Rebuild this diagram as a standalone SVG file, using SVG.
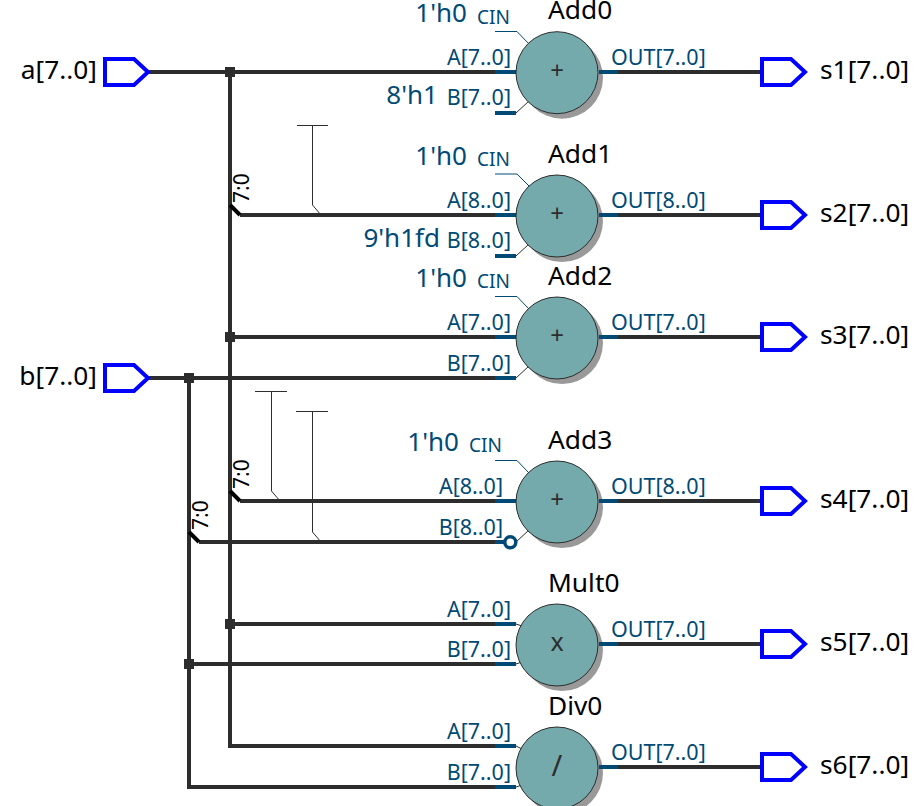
<svg xmlns="http://www.w3.org/2000/svg" width="920" height="806" viewBox="0 0 920 806">
<style>
text{font-family:"Noto Sans","Open Sans","Liberation Sans",sans-serif}
.w{fill:none;stroke:#2d2d2d;stroke-width:4}
.t{fill:none;stroke:#2d2d2d;stroke-width:1}
.tb{fill:none;stroke:#004a75;stroke-width:1}
.s{fill:none;stroke:#004a75;stroke-width:4}
.k{fill:none;stroke:#000;stroke-width:4}
.port{fill:#fff;stroke:#0000ff;stroke-width:4}
.sh{fill:#999}
.c{fill:#74aaac;stroke:#2d2d2d;stroke-width:1}
.n{font-size:26.300px;fill:#000}
.p{font-size:21.500px;fill:#004a75}
.cin{font-size:19px;fill:#004a75}
.v{font-size:26px;fill:#004a75}
.sl{font-size:21px;fill:#000}
.op{font-size:24px;fill:#2d2d2d;text-anchor:middle}
.e{text-anchor:end}
</style>
<defs>
<path id="pt" class="port" d="M0,-13H29L43,0L29,13H0Z"/>
<circle id="cs" class="sh" r="41" cx="5" cy="5"/>
<circle id="cc" class="c" r="41"/>
</defs>
<g id="connectors">
<path class="w" d="M148,72H495M230,72V746H495M240,215H495M230,337H495M148,378H495M189,378V787H495M240,501H495M199,542H503M189,664H495M230,624H495"/>
<path class="w" d="M618,72H761M618,215H761M618,337H761M618,501H761M618,644H761M618,767H761"/>
<path class="k" d="M230,205L240,215M230,491L240,501M189,532L199,542"/>
<path class="t" d="M297,125.500H328M312.500,125V205L321,215M255,391.500H287M271.500,391V491L280,501M296,411.500H328M312.500,411V532L321,542"/>
<rect x="225" y="67" width="10" height="10" fill="#2d2d2d"/>
<rect x="225" y="332" width="10" height="10" fill="#2d2d2d"/>
<rect x="225" y="619" width="10" height="10" fill="#2d2d2d"/>
<rect x="184" y="373" width="10" height="10" fill="#2d2d2d"/>
<rect x="184" y="659" width="10" height="10" fill="#2d2d2d"/>
<text class="sl" transform="translate(249,203) rotate(-90)">7:0</text>
<text class="sl" transform="translate(249,489) rotate(-90)">7:0</text>
<text class="sl" transform="translate(208,530) rotate(-90)">7:0</text>
</g>
<g id="a"><use href="#pt" x="105" y="72"/><text class="n e" x="97" y="79">a[7..0]</text></g>
<g id="b"><use href="#pt" x="105" y="378"/><text class="n e" x="97" y="385">b[7..0]</text></g>
<g id="s1"><use href="#pt" x="762" y="72"/><text class="n" x="820" y="79">s1[7..0]</text></g>
<g id="s2"><use href="#pt" x="762" y="215"/><text class="n" x="820" y="222">s2[7..0]</text></g>
<g id="s3"><use href="#pt" x="762" y="337"/><text class="n" x="820" y="344">s3[7..0]</text></g>
<g id="s4"><use href="#pt" x="762" y="501"/><text class="n" x="820" y="508">s4[7..0]</text></g>
<g id="s5"><use href="#pt" x="762" y="644"/><text class="n" x="820" y="651">s5[7..0]</text></g>
<g id="s6"><use href="#pt" x="762" y="767"/><text class="n" x="820" y="774">s6[7..0]</text></g>
<g id="Add0">
<use href="#cs" x="557" y="72.700"/>
<path class="tb" d="M495,31.500H517L529,44"/><path class="t" d="M516,113L529,101"/>
<path class="s" d="M495,72H517M599,72H618M495,113H516"/>
<use href="#cc" x="557" y="72.700"/>
<text class="op" x="557" y="79">+</text>
<text class="n" x="548" y="19">Add0</text>
<text class="v e" x="467" y="22">1'h0</text><text class="cin" x="477" y="24">CIN</text>
<text class="p e" x="511" y="65">A[7..0]</text><text class="p e" x="511" y="105">B[7..0]</text>
<text class="v e" x="438" y="104">8'h1</text>
<text class="p" x="611" y="65">OUT[7..0]</text>
</g>
<g id="Add1">
<use href="#cs" x="557" y="216"/>
<path class="tb" d="M495,174H517L529,186"/><path class="t" d="M516,256L529,244"/>
<path class="s" d="M495,215H517M599,215H618M495,256H516"/>
<use href="#cc" x="557" y="216"/>
<text class="op" x="557" y="222">+</text>
<text class="n" x="548" y="162.500">Add1</text>
<text class="v e" x="467" y="165">1'h0</text><text class="cin" x="477" y="166">CIN</text>
<text class="p e" x="511" y="208">A[8..0]</text><text class="p e" x="511" y="248">B[8..0]</text>
<text class="v e" x="440" y="247">9'h1fd</text>
<text class="p" x="611" y="208">OUT[8..0]</text>
</g>
<g id="Add2">
<use href="#cs" x="557" y="338"/>
<path class="tb" d="M495,296.500H517L529,309"/><path class="t" d="M516,378L529,366"/>
<path class="s" d="M495,337H517M599,337H618M495,378H516"/>
<use href="#cc" x="557" y="338"/>
<text class="op" x="557" y="344">+</text>
<text class="n" x="548" y="284.500">Add2</text>
<text class="v e" x="467" y="287">1'h0</text><text class="cin" x="477" y="288">CIN</text>
<text class="p e" x="511" y="330">A[7..0]</text><text class="p e" x="511" y="371">B[7..0]</text>
<text class="p" x="611" y="330">OUT[7..0]</text>
</g>
<g id="Add3">
<use href="#cs" x="557" y="502"/>
<path class="tb" d="M495,460.500H517L529,473"/><path class="t" d="M516,542L529,530"/>
<path class="s" d="M495,501H517M599,501H618M495,542H505"/>
<use href="#cc" x="557" y="502"/>
<circle cx="510.300" cy="542.300" r="5.500" fill="#fff" stroke="#004a75" stroke-width="3.500"/>
<text class="op" x="557" y="508">+</text>
<text class="n" x="548" y="448.500">Add3</text>
<text class="v e" x="459" y="451">1'h0</text><text class="cin" x="469" y="452">CIN</text>
<text class="p e" x="503" y="494">A[8..0]</text><text class="p e" x="503" y="535">B[8..0]</text>
<text class="p" x="611" y="494">OUT[8..0]</text>
</g>
<g id="Mult0">
<use href="#cs" x="557" y="645"/>
<path class="t" d="M516,624L522,626M516,664L522,662"/>
<path class="s" d="M495,624H516M495,664H516M599,644H618"/>
<use href="#cc" x="557" y="645"/>
<text class="op" x="557" y="651" style="font-size:25px">x</text>
<text class="n" x="548" y="591.500">Mult0</text>
<text class="p e" x="511" y="617">A[7..0]</text><text class="p e" x="511" y="657">B[7..0]</text>
<text class="p" x="611" y="637">OUT[7..0]</text>
</g>
<g id="Div0">
<use href="#cs" x="557" y="768"/>
<path class="t" d="M516,746L522,749M516,787L522,785"/>
<path class="s" d="M495,746H516M495,787H516M599,767H618"/>
<use href="#cc" x="557" y="768"/>
<text class="op" x="557" y="776" style="font-size:29px">/</text>
<text class="n" x="548" y="714.500">Div0</text>
<text class="p e" x="511" y="739">A[7..0]</text><text class="p e" x="511" y="780">B[7..0]</text>
<text class="p" x="611" y="760">OUT[7..0]</text>
</g>
</svg>
